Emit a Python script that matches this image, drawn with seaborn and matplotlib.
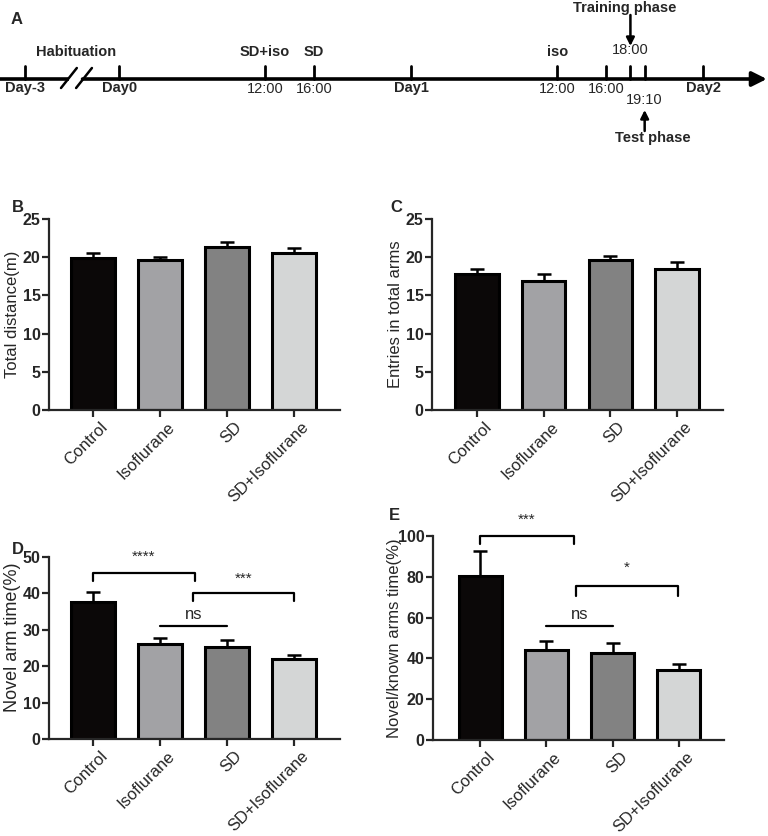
import numpy as np
import pandas as pd
import seaborn as sns
import matplotlib
matplotlib.use('Agg')
import matplotlib.pyplot as plt
from matplotlib.transforms import ScaledTranslation

# Data
groups = ['Control', 'Isoflurane', 'SD', 'SD+Isoflurane']
bar_colors = ['#0b0707', '#a1a1a6', '#828282', '#d4d6d6']

distance_mean = [19.9, 19.6, 21.3, 20.5]
distance_sem = [0.6, 0.4, 0.7, 0.7]

entries_mean = [17.8, 16.9, 19.6, 18.4]
entries_sem = [0.7, 0.9, 0.6, 1.0]

novel_mean = [37.7, 26.1, 25.4, 21.9]
novel_sem = [2.8, 1.7, 1.8, 1.3]

ratio_mean = [80.2, 44.1, 42.8, 34.3]
ratio_sem = [12.4, 4.4, 4.6, 2.8]

# significance brackets: (start, end, height, leg drop, label)
novel_sig = [(0.0, 1.52, 45.6, 2.3, '****'), (1.49, 3.0, 40.0, 2.0, '***')]
novel_ns = (1.0, 2.0, 31.0)
ratio_sig = [(0.0, 1.41, 100.0, 4.1, '***'), (1.44, 2.98, 75.5, 4.9, '*')]
ratio_ns = (1.0, 2.0, 55.9)

# timeline (hours from Day0; Day-3 drawn on the compressed part before the break)
tick_hours = [-7.7, 0, 12, 16, 24, 36, 40, 42, 43.17, 48]
day_labels = [(-7.7, 'Day-3'), (0, 'Day0'), (24, 'Day1'), (48, 'Day2')]
clock_below = [(12, '12:00'), (16, '16:00'), (36, '12:00'), (40, '16:00')]
event_above = [(12, 'SD+iso'), (16, 'SD'), (36, 'iso')]
break_start, break_end = -4.1, -3.0

sns.set_theme(style='ticks')
plt.rcParams['font.family'] = ['Liberation Sans', 'DejaVu Sans']
plt.rcParams['axes.linewidth'] = 1.6

fig = plt.figure(figsize=(7.68, 8.36), dpi=100)
W, H = 768, 836


def px_axes(left, top, right, bottom):
    return fig.add_axes([left / W, 1 - bottom / H, (right - left) / W, (bottom - top) / H])


# Panel A: timeline
axA = px_axes(0, 0, 768, 160)
axA.set_xlim(-9.78, 53.3)
axA.set_ylim(160, 0)
axA.axis('off')
line_y = 79
axA.plot([-9.78, break_start], [line_y, line_y], color='black', lw=2.6, solid_capstyle='butt')
axA.annotate('', xy=(53.2, line_y), xytext=(break_end, line_y),
             arrowprops=dict(arrowstyle='-|>', lw=2.6, color='black', mutation_scale=22,
                             shrinkA=0, shrinkB=0))
for x0 in [-4.77, -3.53]:
    axA.plot([x0, x0 + 1.3], [88, 68], color='black', lw=1.8)
for h in tick_hours:
    axA.plot([h, h], [line_y, 66], color='black', lw=2.0)
tfs = 10.5
for h, lab in day_labels:
    axA.text(h, 88, lab, ha='center', va='center', fontsize=tfs, fontweight='bold')
for h, lab in clock_below:
    axA.text(h, 89, lab, ha='center', va='center', fontsize=tfs)
for h, lab in event_above:
    axA.text(h, 52, lab, ha='center', va='center', fontsize=tfs, fontweight='bold')
axA.text(-3.5, 52, 'Habituation', ha='center', va='center', fontsize=tfs, fontweight='bold')
axA.text(42, 50, '18:00', ha='center', va='center', fontsize=tfs)
axA.text(41.5, 8, 'Training phase', ha='center', va='center', fontsize=tfs, fontweight='bold')
axA.annotate('', xy=(42, 46), xytext=(42, 15),
             arrowprops=dict(arrowstyle='-|>', lw=1.8, color='black', mutation_scale=12,
                             shrinkA=0, shrinkB=0))
axA.text(43.17, 100, '19:10', ha='center', va='center', fontsize=tfs)
axA.annotate('', xy=(43.17, 110), xytext=(43.17, 131),
             arrowprops=dict(arrowstyle='-|>', lw=1.8, color='black', mutation_scale=12,
                             shrinkA=0, shrinkB=0))
axA.text(43.8, 138, 'Test phase', ha='center', va='center', fontsize=tfs, fontweight='bold')
axA.text(-8.95, 20, 'A', ha='left', va='center', fontsize=12, fontweight='bold')


def bar_panel(ax, means, sems, ymax, step, ylabel, xlim, label_x_px, label_fs=12, label_y=0.5):
    df = pd.DataFrame({'group': groups, 'value': means})
    sns.barplot(data=df, x='group', y='value', hue='group', palette=bar_colors,
                edgecolor='black', linewidth=2.2, width=0.65, legend=False, ax=ax)
    ax.errorbar(np.arange(len(groups)), means, yerr=[np.zeros(len(sems)), sems],
                fmt='none', ecolor='black', elinewidth=1.8, capsize=5, capthick=1.8, zorder=0)
    ax.set_ylim(0, ymax)
    ax.set_xlim(*xlim)
    ax.set_yticks(np.arange(0, ymax + 1, step))
    sns.despine(ax=ax)
    ax.tick_params(axis='both', length=5, width=1.6, direction='out')
    ax.tick_params(axis='y', labelsize=11.5, pad=1)
    ax.tick_params(axis='x', labelsize=12, pad=2)
    for t in ax.get_yticklabels():
        t.set_fontweight('bold')
    for t in ax.get_xticklabels():
        t.set_rotation(45)
        t.set_ha('right')
        t.set_va('top')
        t.set_rotation_mode('anchor')
        t.set_transform(t.get_transform() + ScaledTranslation(5 / 72, 0, fig.dpi_scale_trans))
    ax.set_xlabel('')
    ax.set_ylabel(ylabel, fontsize=label_fs, va='center')
    pos = ax.get_position()
    ax.yaxis.set_label_coords((label_x_px - pos.x0 * W) / (pos.width * W), label_y)


def draw_sig(ax, sig, ns):
    for x0, x1, y, drop, lab in sig:
        ax.plot([x0, x0, x1, x1], [y - drop, y, y, y - drop], color='black', lw=1.6, clip_on=False)
        ax.text((x0 + x1) / 2, y + drop * 1.1, lab, ha='center', va='bottom', fontsize=11, clip_on=False)
    x0, x1, y = ns
    ax.plot([x0, x1], [y, y], color='black', lw=1.6)
    ax.text((x0 + x1) / 2, y + sig[0][3] * 0.5, 'ns', ha='center', va='bottom', fontsize=12)


axB = px_axes(49, 219, 340, 410)
bar_panel(axB, distance_mean, distance_sem, 25, 5, 'Total distance(m)', (-0.66, 3.69), 13)
axC = px_axes(432, 219, 723, 410)
bar_panel(axC, entries_mean, entries_sem, 25, 5, 'Entries in total arms', (-0.675, 3.69), 395)
axD = px_axes(49, 557, 340, 739)
bar_panel(axD, novel_mean, novel_sem, 50, 10, 'Novel arm time(%)', (-0.66, 3.69), 13,
          label_fs=13, label_y=0.56)
draw_sig(axD, novel_sig, novel_ns)
axE = px_axes(433, 536, 724, 740)
bar_panel(axE, ratio_mean, ratio_sem, 100, 20, 'Novel/known arms time(%)', (-0.71, 3.68), 395)
draw_sig(axE, ratio_sig, ratio_ns)

# panel letters
for lab, x, y in [('B', 12, 207), ('C', 390, 207), ('D', 12, 549), ('E', 389, 515)]:
    fig.text(x / W, 1 - y / H, lab, ha='left', va='center', fontsize=12, fontweight='bold')

fig.savefig('out.png', dpi=100)
